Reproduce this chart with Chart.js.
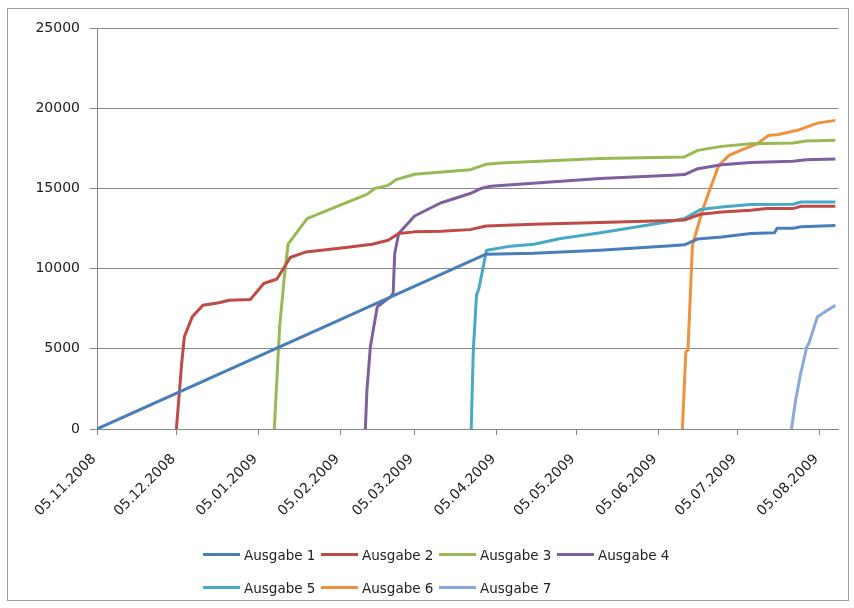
<!DOCTYPE html>
<html>
<head>
<meta charset="utf-8">
<title>Ausgaben</title>
<script src="https://cdn.jsdelivr.net/npm/chart.js@4.4.0/dist/chart.umd.min.js"></script>
<style>
    body { margin: 0; background: #fff; font-family: "DejaVu Sans", sans-serif; }
    #frame { position: absolute; left: 7px; top: 8px; width: 840px; height: 591px; border: 1px solid #a0a0a0; }
    #chart { position: absolute; left: 0; top: 0; }
    #legend { position: absolute; left: 203px; top: 538px; display: grid; grid-template-columns: repeat(4, 118px); grid-auto-rows: 33px; font-size: 13.5px; color: #222; }
    .item { display: flex; align-items: center; white-space: nowrap; }
    .swatch { width: 37px; height: 3px; margin-right: 4px; }
</style>
</head>
<body>
<div id="frame"></div>
<canvas id="chart" width="854" height="608"></canvas>
<div id="legend"></div>

<script>
// x values are days since 05.11.2008
const tickDays   = [0, 30, 61, 92, 120, 151, 181, 212, 242, 273];
const tickLabels = ['05.11.2008', '05.12.2008', '05.01.2009', '05.02.2009', '05.03.2009',
                    '05.04.2009', '05.05.2009', '05.06.2009', '05.07.2009', '05.08.2009'];

const seriesNames  = ['Ausgabe 1', 'Ausgabe 2', 'Ausgabe 3', 'Ausgabe 4', 'Ausgabe 5', 'Ausgabe 6', 'Ausgabe 7'];
const seriesColors = ['#4A7EBB', '#BE4B48', '#98B954', '#7D60A0', '#46AAC5', '#F0913F', '#8AA8DB'];

const days1 = [0, 147, 165, 190, 217, 222, 227, 236, 247, 256, 257, 263, 266, 279];
const vals1 = [0, 10900, 10950, 11150, 11420, 11480, 11850, 11970, 12190, 12230, 12520, 12520, 12610, 12680];

const days2 = [30, 32, 33, 36, 40, 46, 50, 58, 63, 68, 73, 79, 94, 104, 110, 114, 120, 130, 141, 147,
               165, 190, 217, 222, 228, 236, 247, 253, 263, 266, 279];
const vals2 = [0, 4090, 5750, 6990, 7720, 7870, 8030, 8080, 9070, 9350, 10690, 11040, 11320, 11520, 11770, 12190, 12290, 12330, 12430, 12660,
               12770, 12870, 13000, 13030, 13390, 13530, 13640, 13740, 13740, 13890, 13880];

const days3 = [67, 69, 70.8, 72.2, 79.4, 85.6, 94, 102, 105, 110, 111.5, 113, 120, 141, 147, 152.5, 190, 222, 227, 236, 247, 263, 268, 279];
const vals3 = [0, 6370, 9500, 11520, 13120, 13530, 14100, 14630, 15000, 15190, 15360, 15550, 15880, 16170, 16500, 16580, 16860, 16960, 17370, 17620, 17790, 17830, 17950, 18000];

const days4 = [101.4, 102, 103.3, 105.9, 110.9, 111.9, 112.5, 114, 120, 129.8, 141, 145, 148.7, 190, 217, 222, 227, 236, 247, 263, 268, 279];
const vals4 = [0, 2430, 5130, 7620, 8240, 8450, 10940, 12190, 13280, 14090, 14680, 14990, 15130, 15610, 15820, 15860, 16230, 16480, 16610, 16690, 16790, 16830];

const days5 = [141.4, 142.2, 143.4, 144.3, 147.2, 156.3, 165.1, 175.2, 190.3, 217, 222, 228, 236, 247, 263, 266, 279];
const vals5 = [0, 4920, 8340, 8760, 11150, 11400, 11520, 11880, 12240, 12950, 13120, 13680, 13840, 13990, 14010, 14150, 14150];

const days6 = [221.2, 222.5, 223.3, 225.0, 228.8, 231.9, 235.0, 238.8, 243.2, 249.5, 253.9, 257.1, 264.7, 272.2, 279];
const vals6 = [0, 4810, 4920, 11460, 13640, 15090, 16440, 17060, 17370, 17790, 18310, 18350, 18620, 19070, 19240];

const days7 = [262.4, 264, 265.9, 266.5, 268.2, 269, 272.2, 274.1, 279];
const vals7 = [0, 1810, 3470, 3880, 5130, 5340, 6990, 7200, 7720];

const allDays = [days1, days2, days3, days4, days5, days6, days7];
const allVals = [vals1, vals2, vals3, vals4, vals5, vals6, vals7];

const datasets = seriesNames.map((name, i) => ({
    label: name,
    data: allDays[i].map((d, j) => ({ x: d, y: allVals[i][j] })),
    borderColor: seriesColors[i],
    backgroundColor: seriesColors[i],
    fill: false
}));

const axisFont = { family: '"DejaVu Sans", sans-serif', size: 14 };

new Chart(document.getElementById('chart'), {
    type: 'line',
    data: { datasets },
    options: {
        responsive: false,
        animation: false,
        layout: { padding: { left: 7, top: 28, right: 16, bottom: 0 } },
        plugins: { legend: { display: false }, tooltip: { enabled: false } },
        elements: {
            point: { radius: 0, hoverRadius: 0 },
            line: { borderWidth: 3, tension: 0, borderJoinStyle: 'round' }
        },
        scales: {
            x: {
                type: 'linear',
                min: 0,
                max: 280,
                afterBuildTicks: s => { s.ticks = tickDays.map(v => ({ value: v })); },
                afterFit: s => { s.height = 179; },
                grid: { drawOnChartArea: false, drawTicks: true, tickLength: 6, color: '#888' },
                border: { color: '#888', width: 1 },
                ticks: {
                    autoSkip: false, maxRotation: 45, minRotation: 45,
                    padding: 16, labelOffset: -3,
                    color: '#222', font: axisFont,
                    callback: (v, i) => tickLabels[i]
                }
            },
            y: {
                min: 0,
                max: 25000,
                afterFit: s => { s.width = 90; },
                grid: { color: '#888', tickLength: 7 },
                border: { color: '#888', width: 1 },
                ticks: { stepSize: 5000, padding: 10, color: '#222', font: axisFont, callback: v => String(v) }
            }
        }
    }
});

// Legend (rows aligned in columns like the original)
const legend = document.getElementById('legend');
seriesNames.forEach((name, i) => {
    const item = document.createElement('div');
    item.className = 'item';
    item.innerHTML = `<span class="swatch" style="background:${seriesColors[i]}"></span><span>${name}</span>`;
    legend.appendChild(item);
});
</script>
</body>
</html>
